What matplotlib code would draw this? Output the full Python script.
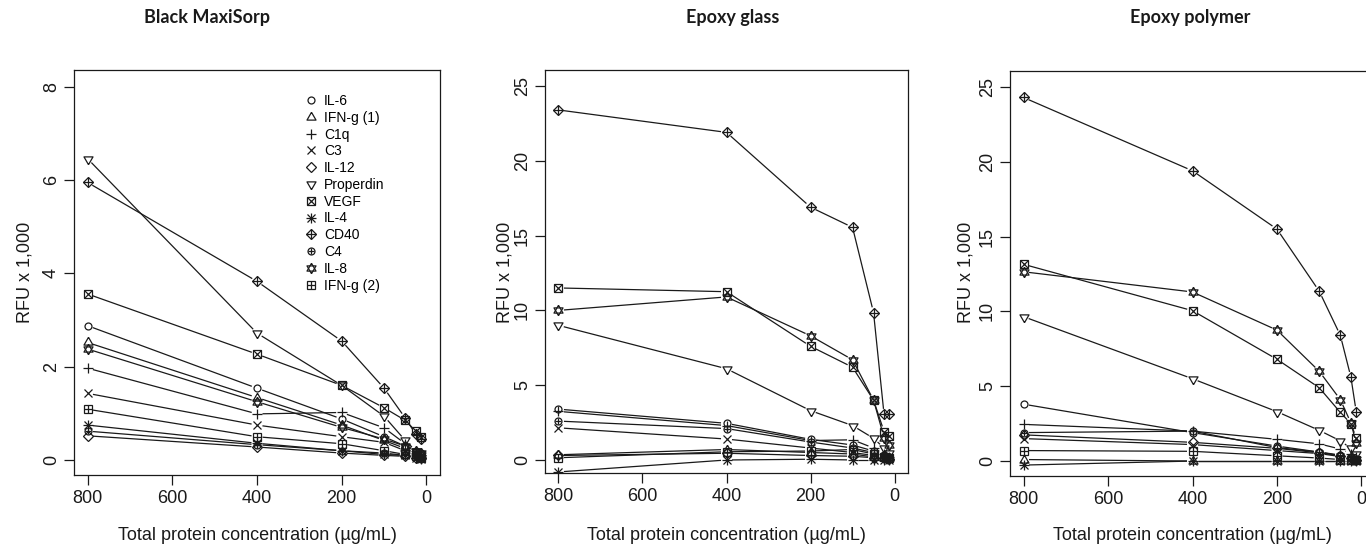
import matplotlib
matplotlib.use("Agg")
import matplotlib.pyplot as plt
import numpy as np
from matplotlib.lines import Line2D
from matplotlib.legend_handler import HandlerTuple

# ---------------- data ----------------
conc = [800, 400, 200, 100, 50, 25, 12.5]
analytes = ["IL-6", "IFN-g (1)", "C1q", "C3", "IL-12", "Properdin", "VEGF",
            "IL-4", "CD40", "C4", "IL-8", "IFN-g (2)"]
panel_titles = ["Black MaxiSorp", "Epoxy glass", "Epoxy polymer"]
x_ticks = [800, 600, 400, 200, 0]
y_ticks_ms = [0, 2, 4, 6, 8]
y_ticks_ep = [0, 5, 10, 15, 20, 25]

# RFU x 1,000, one row per analyte (order of `analytes`)
maxisorp = [
    [2.88, 1.54, 0.88, 0.50, 0.30, 0.20, 0.15],   # IL-6
    [2.52, 1.34, 0.75, 0.42, 0.25, 0.15, 0.10],   # IFN-g (1)
    [1.97, 0.99, 1.02, 0.69, 0.35, 0.20, 0.10],   # C1q
    [1.43, 0.75, 0.50, 0.38, 0.20, 0.10, 0.05],   # C3
    [0.52, 0.28, 0.15, 0.10, 0.08, 0.05, 0.05],   # IL-12
    [6.46, 2.72, 1.60, 0.94, 0.42, 0.20, 0.10],   # Properdin
    [3.56, 2.27, 1.60, 1.12, 0.85, 0.62, 0.50],   # VEGF
    [0.75, 0.36, 0.20, 0.12, 0.10, 0.05, 0.03],   # IL-4
    [5.95, 3.83, 2.55, 1.54, 0.90, 0.55, 0.45],   # CD40
    [0.62, 0.33, 0.20, 0.15, 0.10, 0.08, 0.05],   # C4
    [2.38, 1.25, 0.70, 0.45, 0.30, 0.20, 0.15],   # IL-8
    [1.09, 0.50, 0.35, 0.20, 0.12, 0.08, 0.05],   # IFN-g (2)
]
epoxy_glass = [
    [3.40, 2.45, 1.38, 1.00, 0.60, 0.30, 0.20],   # IL-6
    [0.35, 0.70, 0.50, 0.40, 0.20, 0.10, 0.10],   # IFN-g (1)
    [3.25, 2.30, 1.30, 1.35, 0.80, 0.40, 0.20],   # C1q
    [2.15, 1.40, 0.80, 0.50, 0.30, 0.20, 0.10],   # C3
    [0.30, 0.45, 0.30, 0.25, 0.15, 0.10, 0.05],   # IL-12
    [9.00, 6.10, 3.30, 2.30, 1.45, 0.80, 0.50],   # Properdin
    [11.50, 11.25, 7.60, 6.20, 4.00, 1.90, 1.60], # VEGF
    [-0.80, 0.00, 0.05, 0.00, 0.00, 0.00, 0.00],  # IL-4
    [23.40, 21.90, 16.90, 15.55, 9.85, 3.05, 3.05],  # CD40
    [2.60, 2.10, 1.20, 0.80, 0.50, 0.30, 0.20],   # C4
    [10.00, 10.90, 8.30, 6.70, 4.00, 1.50, 1.00], # IL-8
    [0.15, 0.55, 0.60, 0.70, 0.40, 0.20, 0.10],   # IFN-g (2)
]
epoxy_polymer = [
    [3.80, 1.90, 1.00, 0.60, 0.35, 0.20, 0.10],   # IL-6
    [0.10, 0.00, 0.00, 0.00, 0.00, 0.00, 0.00],   # IFN-g (1)
    [2.45, 2.00, 1.45, 1.15, 0.80, 0.50, 0.30],   # C1q
    [1.50, 1.10, 0.70, 0.50, 0.30, 0.20, 0.10],   # C3
    [1.75, 1.25, 0.85, 0.55, 0.35, 0.20, 0.10],   # IL-12
    [9.65, 5.50, 3.30, 2.05, 1.35, 0.85, 0.50],   # Properdin
    [13.15, 10.05, 6.80, 4.90, 3.25, 2.50, 1.55], # VEGF
    [-0.27, 0.00, 0.00, 0.00, 0.00, 0.00, 0.00],  # IL-4
    [24.30, 19.40, 15.50, 11.35, 8.40, 5.60, 3.30],  # CD40
    [1.90, 2.00, 0.90, 0.60, 0.40, 0.25, 0.15],   # C4
    [12.65, 11.30, 8.75, 6.00, 4.10, 2.55, 1.20], # IL-8
    [0.70, 0.65, 0.35, 0.20, 0.10, 0.05, 0.05],   # IFN-g (2)
]
panel_data = [maxisorp, epoxy_glass, epoxy_polymer]

# ---------------- style ----------------
W, H, DPI = 1366, 553, 100
plt.rcParams['font.family'] = ['Liberation Sans', 'DejaVu Sans']
FS = 13
ink = '#1a1a1a'

# centroid-centred triangles (as R draws them)
tri_up = [(0, 1), (-0.866, -0.5), (0.866, -0.5), (0, 1)]
tri_dn = [(0, -1), (-0.866, 0.5), (0.866, 0.5), (0, -1)]

# R pch 1..12 as overlays of matplotlib markers (marker, size in pt)
pch = [
    [('o', 5.0)],
    [(tri_up, 7.5)],
    [('+', 7.0)],
    [('x', 5.5)],
    [('D', 5.0)],
    [(tri_dn, 7.5)],
    [('s', 5.5), ('x', 5.5)],
    [('+', 7.0), ('x', 5.5)],
    [('D', 5.5), ('+', 7.5)],
    [('o', 5.0), ('+', 5.0)],
    [(tri_up, 7.5), (tri_dn, 7.5)],
    [('s', 5.5), ('+', 5.5)],
]

fig = plt.figure(figsize=(W / DPI, H / DPI), dpi=DPI)

# axes boxes in pixels: left, top, right, bottom
boxes = [(74, 70, 440, 475), (545, 70, 908, 473), (1010, 71, 1375, 476)]
ylims = [(-0.32, 8.36), (-0.87, 26.07), (-1.0, 26.07)]
yticks = [y_ticks_ms, y_ticks_ep, y_ticks_ep]
title_x = [207, 733, 1190]
ylabel_x = [25, 505, 966]
GAP = 5.5  # px gap between line and point (R type="b")

for i in range(3):
    l, t, r, b = boxes[i]
    ax = fig.add_axes([l / W, 1 - b / H, (r - l) / W, (b - t) / H])
    ax.set_xlim(832, -32)
    ax.set_ylim(*ylims[i])
    ax.set_xticks(x_ticks)
    ax.set_yticks(yticks[i])
    ax.tick_params(axis='both', labelsize=FS, length=7, width=0.9, color=ink,
                   labelcolor=ink)
    ax.tick_params(axis='x', pad=4)
    ax.tick_params(axis='y', pad=3)
    for lab in ax.get_yticklabels():
        lab.set_rotation(90)
        lab.set_va('center')
    for s in ax.spines.values():
        s.set_linewidth(0.9)
        s.set_color(ink)

    data = panel_data[i]
    tr = ax.transData
    inv = tr.inverted()
    for k, vals in enumerate(data):
        pts = tr.transform(np.column_stack([conc, vals]))
        for j in range(len(pts) - 1):
            p0, p1 = pts[j], pts[j + 1]
            d = p1 - p0
            L = np.hypot(*d)
            if L <= 2 * GAP:
                continue
            u = d / L
            a = inv.transform([p0 + u * GAP, p1 - u * GAP])
            ax.plot(a[:, 0], a[:, 1], color=ink, lw=0.9, solid_capstyle='butt')
        for m, ms in pch[k]:
            ax.plot(conc, vals, ls='none', marker=m, ms=ms, mfc='none',
                    mec=ink, mew=0.9)

    if i == 0:
        handles = []
        for k in range(12):
            handles.append(tuple(Line2D([], [], ls='none', marker=m, ms=ms,
                                        mfc='none', mec=ink, mew=0.9)
                                 for m, ms in pch[k]))
        ax.legend(handles, analytes, handler_map={tuple: HandlerTuple(ndivide=1, pad=0)},
                  loc='upper left', bbox_to_anchor=(304 / W, 1 - 94 / H),
                  bbox_transform=fig.transFigure, frameon=False, fontsize=10,
                  handlelength=1.0, handletextpad=0.45, labelspacing=0.2,
                  borderpad=0, borderaxespad=0)

    fig.text(title_x[i] / W, 1 - 18 / H, panel_titles[i], ha='center', va='center',
             fontsize=13, fontweight='bold', family=['Lato', 'DejaVu Sans'],
             color=ink)
    fig.text(((l + r) / 2) / W, 1 - 535 / H, 'Total protein concentration (µg/mL)',
             ha='center', va='center', fontsize=FS, color=ink)
    fig.text(ylabel_x[i] / W, 1 - 272 / H, 'RFU x 1,000', ha='center', va='center',
             rotation=90, fontsize=FS, color=ink)

fig.savefig('out.png', dpi=DPI)
